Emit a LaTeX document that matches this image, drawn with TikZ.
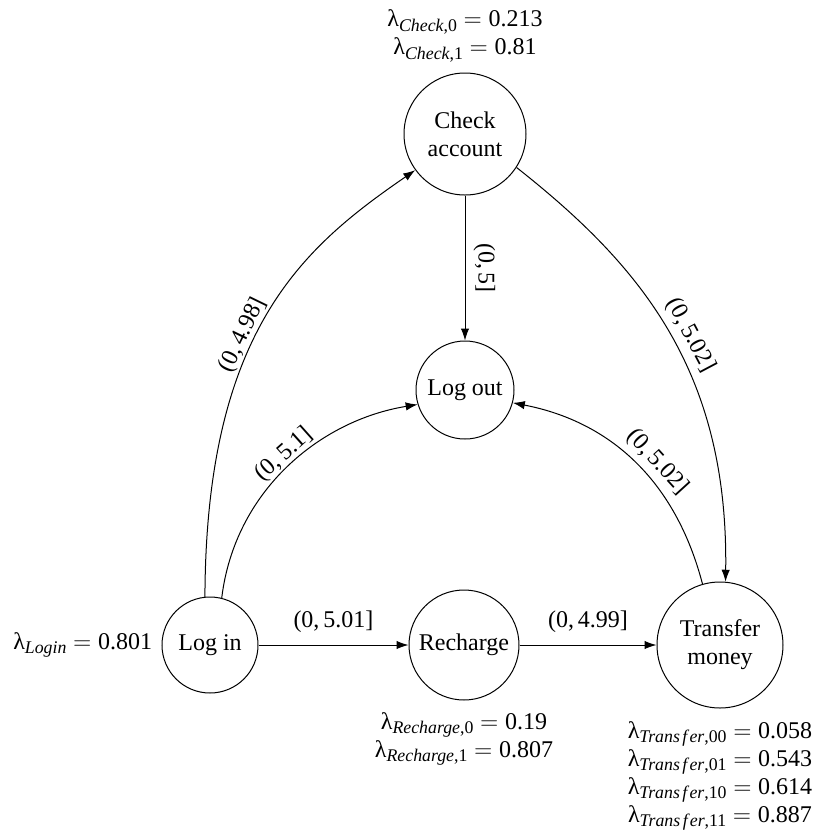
\documentclass[tikz,border=0pt]{standalone}
\usepackage{fontspec}
\setmainfont{Liberation Serif}
\usetikzlibrary{arrows.meta}
\newcommand{\lbd}[2]{λ\raisebox{-2.2pt}{\fontsize{8.9}{10}\selectfont #1}$\;=\;$#2}
\newcommand{\trf}{\textit{Trans\hspace{0.14em}f\hspace{0.12em}er}}
\begin{document}
\begin{tikzpicture}[x=0.5pt,y=-0.5pt,
  font=\fontsize{12}{14}\selectfont,
  state/.style={circle, draw, line width=0.5pt, inner sep=0pt, align=center},
  arr/.style={-{Latex[length=6pt,width=4.2pt]}, line width=0.5pt},
  elab/.style={inner sep=#1},
  elab/.default=1pt]
\useasboundingbox[fill=white] (0,0) rectangle (816,832);
% states
\node[state, minimum size=61pt] (check) at (465,134) {Check\\account};
\node[state, minimum size=49pt] (logout) at (465,390) {Log out};
\node[state, minimum size=48pt] (login) at (210,645) {Log in};
\node[state, minimum size=55pt] (recharge) at (464,645) {Recharge};
\node[state, minimum size=63pt] (transfer) at (720,645) {Transfer\\money};
% rate labels
\node[align=center] (lc) at (465,36) {\lbd{\textit{Check},0}{0.213}\\\lbd{\textit{Check},1}{0.81}};
\node[anchor=east, inner sep=0pt] (ll) at ([xshift=-4.5pt]login.west) {\lbd{\textit{Login}}{0.801}};
\node[align=center] (lr) at (464,739) {\lbd{\textit{Recharge},0}{0.19}\\\lbd{\textit{Recharge},1}{0.807}};
\node[align=center] (lt) at (720,776) {\lbd{\trf,00}{0.058}\\\lbd{\trf,01}{0.543}\\\lbd{\trf,10}{0.614}\\\lbd{\trf,11}{0.887}};
% transitions
\draw[arr] (login.96) .. controls +(1,-267) and +(-112,77) .. (check.216)
  node[sloped, above, elab=0pt, pos=0.43] {(0,\,4.98]};
\draw[arr] (login.76) .. controls +(13,-107) and +(-98,16) .. (logout.197)
  node[sloped, above, elab=0pt, pos=0.52] {(0,\,5.1]};
\draw[arr] (check) -- (logout)
  node[midway, rotate=-90, anchor=south, elab=4pt] {(0,\,5]};
\draw[arr] (check.-33) .. controls +(123,97) and +(3,-212) .. (transfer.85)
  node[sloped, above, elab=3pt, pos=0.53] {(0,\,5.02]};
\draw[arr] (transfer.106) .. controls +(-27,-103) and +(98,19) .. (logout.-15)
  node[sloped, above, elab=2.5pt, pos=0.44] {(0,\,5.02]};
\draw[arr] (login) -- (recharge)
  node[midway, above, elab=1pt, yshift=5pt] {(0,\,5.01]};
\draw[arr] (recharge) -- (transfer)
  node[midway, above, elab=1pt, yshift=5pt] {(0,\,4.99]};
\end{tikzpicture}
\end{document}
